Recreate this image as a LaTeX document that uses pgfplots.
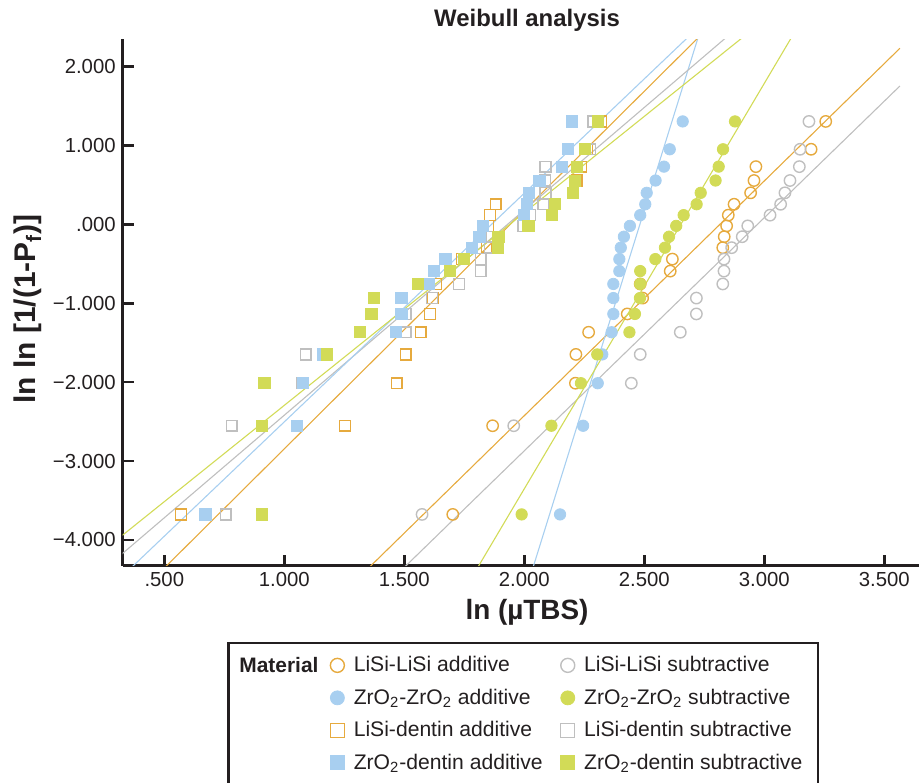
\documentclass[border=0pt]{standalone}
\usepackage{fontspec}
\setmainfont{Liberation Sans}
\usepackage{pgfplots}
\usepackage{pgfplotstable}
\pgfplotsset{compat=1.18}

\definecolor{axisc}{HTML}{231F20}
\definecolor{cOr}{HTML}{E6AA3E}
\definecolor{cGr}{HTML}{BFBFBF}
\definecolor{cBl}{HTML}{A8CFF0}
\definecolor{cYg}{HTML}{D2DB57}

% y = ln ln(1/(1-Pf)), x = ln(uTBS) per group (20 specimens each)
\pgfplotstableread{
y oc gc bc ec os gs bs es
-3.676 1.702 1.574 2.149 1.989 0.570 0.756 0.671 0.906
-2.552 1.868 1.956 2.245 2.113 1.253 0.781 1.052 0.907
-2.013 2.213 2.446 2.306 2.236 1.468 1.074 1.077 0.917
-1.648 2.215 2.483 2.325 2.304 1.506 1.089 1.163 1.179
-1.367 2.268 2.650 2.364 2.438 1.568 1.506 1.465 1.315
-1.135 2.429 2.717 2.371 2.461 1.607 1.506 1.488 1.363
-0.934 2.493 2.717 2.371 2.482 1.618 1.615 1.488 1.374
-0.755 2.483 2.827 2.371 2.483 1.632 1.728 1.601 1.558
-0.592 2.608 2.832 2.396 2.483 1.690 1.818 1.624 1.690
-0.440 2.617 2.832 2.396 2.546 1.739 1.818 1.671 1.750
-0.295 2.827 2.864 2.402 2.586 1.843 1.857 1.781 1.889
-0.156 2.833 2.908 2.415 2.603 1.849 1.864 1.813 1.892
-0.019 2.843 2.931 2.440 2.633 1.850 1.996 1.827 2.017
0.117 2.850 3.024 2.483 2.664 1.857 2.024 1.999 2.114
0.255 2.874 3.068 2.504 2.718 1.881 2.079 2.010 2.128
0.400 2.943 3.086 2.510 2.735 2.086 2.088 2.020 2.204
0.556 2.957 3.107 2.547 2.797 2.218 2.087 2.063 2.211
0.732 2.965 3.146 2.582 2.810 2.236 2.088 2.155 2.219
0.952 3.195 3.149 2.606 2.828 2.261 2.274 2.183 2.253
1.305 3.256 3.186 2.660 2.878 2.320 2.288 2.198 2.306
}\data

\begin{document}
\begin{tikzpicture}
\begin{axis}[
  scale only axis,
  width=398.15bp, height=263.2bp,
  xmin=0.3267, xmax=3.6446,
  ymin=-4.326, ymax=2.346,
  axis lines=left,
  axis line style={-, line width=1.3bp, color=axisc},
  tick align=inside,
  major tick length=5.5bp,
  tick style={line width=1.3bp, color=axisc},
  xtick={0.5,1,1.5,2,2.5,3,3.5},
  xticklabels={.500,1.000,1.500,2.000,2.500,3.000,3.500},
  ytick={-4,-3,-2,-1,0,1,2},
  yticklabels={−4.000,−3.000,−2.000,−1.000,.000,1.000,2.000},
  ticklabel style={font=\fontsize{10.2}{12}\selectfont, color=axisc},
  legend columns=2,
  legend cell align=left,
  legend image code/.code={\draw[#1, mark size=3.5bp] plot coordinates {(0bp,0bp)};},
  legend style={
    at={(0.2603,-0.1577)}, anchor=north west,
    draw=none, fill=none, inner sep=0pt,
    font=\fontsize{10.6}{12}\selectfont, text=axisc,
    nodes={inner sep=0pt, minimum height=16.25bp},
    /tikz/every odd column/.append style={column sep=4.7bp},
    /tikz/every even column/.append style={column sep=4.5bp},
  },
]
% fitted Weibull lines
\addplot[forget plot, cOr, line width=0.55bp] coordinates {(1.2,-4.805) (3.565,2.232)};
\addplot[forget plot, cGr, line width=0.55bp] coordinates {(1.3,-4.938) (3.565,1.754)};
\addplot[forget plot, cBl, line width=0.55bp] coordinates {(2.0,-4.704) (2.75,2.621)};
\addplot[forget plot, cYg, line width=0.55bp] coordinates {(1.75,-4.636) (3.2,2.815)};
\addplot[forget plot, cOr, line width=0.55bp] coordinates {(0.45,-4.507) (2.8,2.594)};
\addplot[forget plot, cGr, line width=0.55bp] coordinates {(0.3,-4.239) (2.9,2.522)};
\addplot[forget plot, cBl, line width=0.55bp] coordinates {(0.3,-4.532) (2.8,2.714)};
\addplot[forget plot, cYg, line width=0.55bp] coordinates {(0.3,-4.003) (3.0,2.590)};

% data points
\addplot[only marks, mark=o, mark size=2.85bp, mark options={draw=cOr, line width=0.7bp}] table[x=oc, y=y] {\data};
\addlegendentry{\makebox[99bp][l]{LiSi-LiSi additive}}
\addplot[only marks, mark=o, mark size=2.85bp, mark options={draw=cGr, line width=0.7bp}] table[x=gc, y=y] {\data};
\addlegendentry{LiSi-LiSi subtractive}
\addplot[only marks, mark=*, mark size=2.85bp, mark options={draw=cBl, fill=cBl}] table[x=bc, y=y] {\data};
\addlegendentry{\makebox[99bp][l]{ZrO\textsubscript{2}-ZrO\textsubscript{2} additive}}
\addplot[only marks, mark=*, mark size=2.85bp, mark options={draw=cYg, fill=cYg}] table[x=ec, y=y] {\data};
\addlegendentry{ZrO\textsubscript{2}-ZrO\textsubscript{2} subtractive}
\addplot[only marks, mark=square, mark size=2.7bp, mark options={draw=cOr, line width=0.7bp, rounded corners=0.8bp}] table[x=os, y=y] {\data};
\addlegendentry{\makebox[99bp][l]{LiSi-dentin additive}}
\addplot[only marks, mark=square, mark size=2.7bp, mark options={draw=cGr, line width=0.7bp, rounded corners=0.8bp}] table[x=gs, y=y] {\data};
\addlegendentry{LiSi-dentin subtractive}
\addplot[only marks, mark=square*, mark size=2.8bp, mark options={draw=cBl, fill=cBl, rounded corners=0.8bp}] table[x=bs, y=y] {\data};
\addlegendentry{\makebox[99bp][l]{ZrO\textsubscript{2}-dentin additive}}
\addplot[only marks, mark=square*, mark size=2.8bp, mark options={draw=cYg, fill=cYg, rounded corners=0.8bp}] table[x=es, y=y] {\data};
\addlegendentry{ZrO\textsubscript{2}-dentin subtractive}
\end{axis}

% titles and labels
\node[font=\bfseries\fontsize{12}{14}\selectfont, text=axisc] at (202.15bp,272.5bp) {Weibull analysis};
\node[font=\bfseries\fontsize{14}{16}\selectfont, text=axisc] at (202.15bp,-23.15bp) {ln (µTBS)};
\node[font=\bfseries\fontsize{15}{17}\selectfont, text=axisc, rotate=90] at (-47.35bp,128.35bp) {ln ln [1/(1-P\textsubscript{f})]};

% legend frame and heading
\draw[line width=1.1bp, color=axisc] (52.85bp,-130bp) rectangle (347.5bp,-38.5bp);
\node[anchor=west, inner sep=0pt, font=\bfseries\fontsize{10.5}{12}\selectfont, text=axisc] at (58.15bp,-49.65bp) {Material};

\pgfresetboundingbox
\useasboundingbox (-61.35bp,-108.65bp) rectangle (398.15bp,282.85bp);
\end{tikzpicture}
\end{document}
